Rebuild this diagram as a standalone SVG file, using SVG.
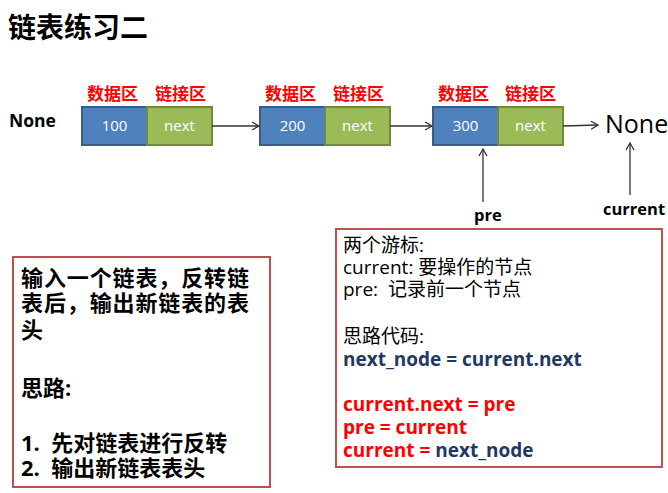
<svg xmlns="http://www.w3.org/2000/svg" width="668" height="493" viewBox="0 0 668 493">
<style>
text{font-family:"Open Sans","Noto Sans CJK SC",sans-serif}
.cjk{font-family:"Noto Sans CJK SC",sans-serif}
.b{font-weight:bold}
.lbl{font-size:17px;font-weight:bold;fill:#ff0000;font-family:"Noto Sans CJK SC",sans-serif}
.val{font-size:15px;fill:#ffffff;text-anchor:middle}
.data{fill:#4f81bd;stroke:#385d8a;stroke-width:2}
.lnk{fill:#9bbb59;stroke:#71893f;stroke-width:2}
.con{stroke:#333333;stroke-width:1.3;fill:none;marker-end:url(#ah)}
.box{fill:#ffffff;stroke:#c0504d;stroke-width:2}
.t1{font-size:19px;fill:#000}
.t2{font-size:19px;font-weight:bold}
.t3{font-size:22px;font-weight:bold}
.blue{fill:#1f3864}
.red{fill:#ff0000}
</style>
<defs>
<marker id="ah" markerWidth="10" markerHeight="10" refX="8" refY="5" orient="auto" markerUnits="userSpaceOnUse">
<path d="M1,1 L8,5 L1,9" fill="none" stroke="#333333" stroke-width="1.3"/>
</marker>
</defs>
<rect width="668" height="493" fill="#ffffff"/>
<text x="8" y="38" class="b cjk" font-size="28">链表练习二</text>
<g id="none-left"><text x="9" y="127" class="b" font-size="17.5">None</text></g>
<g id="node1">
<text x="87" y="100" class="lbl">数据区</text>
<text x="155" y="100" class="lbl">链接区</text>
<rect x="82" y="107" width="65" height="38" class="data"/>
<rect x="147" y="107" width="65" height="38" class="lnk"/>
<text x="114.5" y="131" class="val">100</text>
<text x="179.5" y="131" class="val">next</text>
</g>
<g id="node2">
<text x="265" y="100" class="lbl">数据区</text>
<text x="333" y="100" class="lbl">链接区</text>
<rect x="260" y="107" width="65" height="38" class="data"/>
<rect x="325" y="107" width="65" height="38" class="lnk"/>
<text x="292.5" y="131" class="val">200</text>
<text x="357.5" y="131" class="val">next</text>
</g>
<g id="node3">
<text x="438" y="100" class="lbl">数据区</text>
<text x="505" y="100" class="lbl">链接区</text>
<rect x="433" y="107" width="65" height="38" class="data"/>
<rect x="498" y="107" width="65" height="38" class="lnk"/>
<text x="465.5" y="131" class="val">300</text>
<text x="530.5" y="131" class="val">next</text>
</g>
<g id="none-right"><text x="605" y="133" font-size="25">None</text></g>
<g id="pre"><text x="474" y="221" class="b" font-size="16.5">pre</text></g>
<g id="current"><text x="603" y="215" class="b" font-size="16.5">current</text></g>
<g id="connectors">
<line x1="212" y1="126" x2="259" y2="126" class="con"/>
<line x1="390" y1="126" x2="432" y2="126" class="con"/>
<line x1="563" y1="126" x2="598" y2="125" class="con"/>
<line x1="483" y1="202" x2="483" y2="149" class="con"/>
<line x1="630" y1="195" x2="630" y2="143" class="con"/>
</g>
<g id="task-box">
<rect x="13" y="257" width="257" height="230" class="box"/>
<text x="21" y="286" class="t3" textLength="228">输入一个链表，反转链</text>
<text x="21" y="311" class="t3" textLength="228">表后，输出新链表的表</text>
<text x="21" y="338" class="t3">头</text>
<text x="21" y="396" class="t3">思路:</text>
<text x="21" y="451" class="t3" xml:space="preserve">1.  先对链表进行反转</text>
<text x="21" y="476" class="t3" xml:space="preserve">2.  输出新链表表头</text>
</g>
<g id="code-box">
<rect x="336" y="229" width="326" height="238" class="box"/>
<text x="343" y="252" class="t1">两个游标:</text>
<text x="343" y="274" class="t1">current: 要操作的节点</text>
<text x="343" y="296" class="t1" xml:space="preserve">pre:  记录前一个节点</text>
<text x="343" y="343" class="t1">思路代码:</text>
<text x="343" y="366" class="t2 blue">next_node = current.next</text>
<text x="343" y="411" class="t2 red">current.next = pre</text>
<text x="343" y="434" class="t2 red">pre = current</text>
<text x="343" y="457" class="t2" xml:space="preserve"><tspan class="red">current = </tspan><tspan class="blue">next_node</tspan></text>
</g>
</svg>
